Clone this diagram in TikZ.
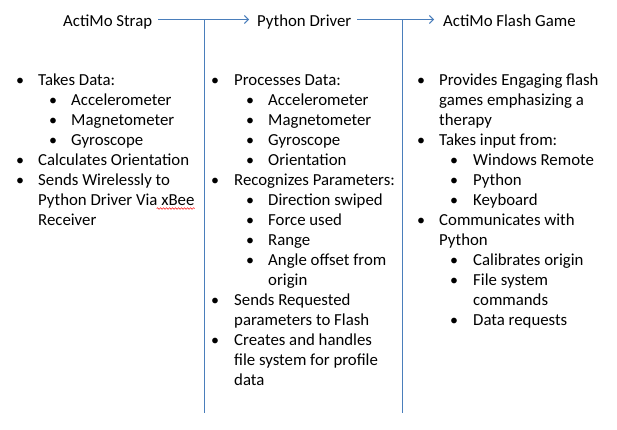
\documentclass[tikz,border=0pt]{standalone}
\usepackage{fontspec}
\setmainfont{Carlito}
\usetikzlibrary{arrows.meta,decorations.pathmorphing}
\definecolor{linkblue}{HTML}{4A7EBB}
\newcommand\tl[4]{\node[txt] (#1) at (#2,#3) {#4};}
\newcommand\bu[3]{\node[bul] (#1) at (#2,#3) {\textbullet};}
\begin{document}
\begin{tikzpicture}[x=1pt,y=-1pt,
  txt/.style={anchor=base west,inner sep=0pt,font=\fontsize{16.8}{20}\selectfont},
  bul/.style={anchor=base,inner sep=0pt,font=\fontsize{16}{20}\selectfont},
  title/.style={anchor=base west,inner sep=0pt,text height=13pt,text depth=0pt,font=\fontsize{16.8}{20}\selectfont},
  conn/.style={draw=linkblue,line width=0.9pt},
  flow/.style={conn,-{Straight Barb[length=4pt,width=8pt]}}]
\useasboundingbox (0,0) rectangle (617,429);
% titles
\node[title] (t1) at (63,26) {ActiMo Strap};
\node[title] (t2) at (257,26) {Python Driver};
\node[title] (t3) at (443,26) {ActiMo Flash Game};
\coordinate (v1) at (204,413);
\coordinate (v2) at (402,413);
\draw[flow,shorten <=6pt,shorten >=8pt] (t1.east) -- (t2.west);
\draw[flow,shorten <=6pt,shorten >=9pt] (t2.east) -- (t3.west);
\draw[conn] (t1.east -| v1) -- (v1);
\draw[conn] (t2.east -| v2) -- (v2);
% column 1
\bu{b11}{20}{85.5}\tl{a1}{38}{85.5}{Takes Data:}
\bu{b12}{53}{105.5}\tl{a2}{71}{105.5}{Accelerometer}
\bu{b13}{53}{125.5}\tl{a3}{71}{125.5}{Magnetometer}
\bu{b14}{53}{145.5}\tl{a4}{71}{145.5}{Gyroscope}
\bu{b15}{20}{165.5}\tl{a5}{38}{165.5}{Calculates Orientation}
\bu{b16}{20}{185.5}\tl{a6}{38}{185.5}{Sends Wirelessly to}
\tl{a7}{38}{205.5}{Python Driver Via xBee}
\tl{a8}{38}{225.5}{Receiver}
\draw[red,line width=0.5pt,decorate,decoration={snake,amplitude=0.8pt,segment length=3pt}]
  ([xshift=-38pt,yshift=-3pt]a7.base east) -- ([yshift=-3pt]a7.base east);
% column 2
\bu{b21}{215}{85.5}\tl{c1}{234}{85.5}{Processes Data:}
\bu{b22}{250}{105.5}\tl{c2}{268}{105.5}{Accelerometer}
\bu{b23}{250}{125.5}\tl{c3}{268}{125.5}{Magnetometer}
\bu{b24}{250}{145.5}\tl{c4}{268}{145.5}{Gyroscope}
\bu{b25}{250}{165.5}\tl{c5}{268}{165.5}{Orientation}
\bu{b26}{215}{185.5}\tl{c6}{234}{185.5}{Recognizes Parameters:}
\bu{b27}{250}{205.5}\tl{c7}{268}{205.5}{Direction swiped}
\bu{b28}{250}{225.5}\tl{c8}{268}{225.5}{Force used}
\bu{b29}{250}{245.5}\tl{c9}{268}{245.5}{Range}
\bu{b210}{250}{265.5}\tl{c10}{268}{265.5}{Angle offset from}
\tl{c11}{268}{285.5}{origin}
\bu{b212}{215}{305.5}\tl{c12}{234}{305.5}{Sends Requested}
\tl{c13}{234}{325.5}{parameters to Flash}
\bu{b214}{215}{345.5}\tl{c14}{234}{345.5}{Creates and handles}
\tl{c15}{234}{365.5}{file system for profile}
\tl{c16}{234}{385.5}{data}
% column 3
\bu{b31}{421}{85.5}\tl{d1}{439}{85.5}{Provides Engaging flash}
\tl{d2}{439}{105.5}{games emphasizing a}
\tl{d3}{439}{125.5}{therapy}
\bu{b34}{421}{145.5}\tl{d4}{439}{145.5}{Takes input from:}
\bu{b35}{454}{165.5}\tl{d5}{473}{165.5}{Windows Remote}
\bu{b36}{454}{185.5}\tl{d6}{473}{185.5}{Python}
\bu{b37}{454}{205.5}\tl{d7}{473}{205.5}{Keyboard}
\bu{b38}{421}{225.5}\tl{d8}{439}{225.5}{Communicates with}
\tl{d9}{439}{245.5}{Python}
\bu{b310}{454}{265.5}\tl{d10}{473}{265.5}{Calibrates origin}
\bu{b311}{454}{285.5}\tl{d11}{473}{285.5}{File system}
\tl{d12}{473}{305.5}{commands}
\bu{b313}{454}{325.5}\tl{d13}{473}{325.5}{Data requests}
\end{tikzpicture}
\end{document}
